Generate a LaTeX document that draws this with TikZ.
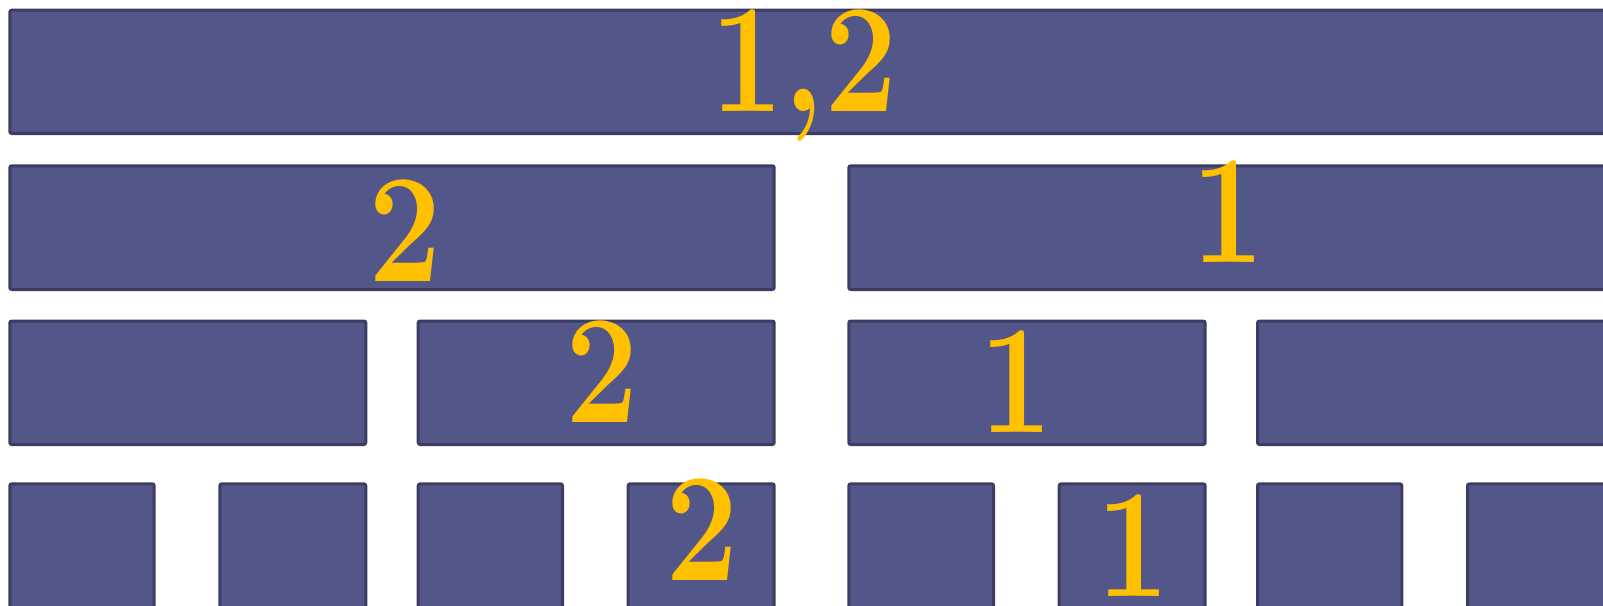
\documentclass[tikz,border=0pt]{standalone}
\usepackage{fontspec}
\usepackage{graphicx}
\setmainfont{Latin Modern Roman}
\definecolor{boxfill}{RGB}{83,86,137}
\definecolor{boxline}{RGB}{60,60,100}
\definecolor{numcol}{RGB}{255,192,0}
\tikzset{
  box/.style={draw=boxline, fill=boxfill, line width=3pt, rounded corners=2pt, inner sep=0pt, outer sep=0pt},
  num/.style={text=numcol, font=\fontsize{155}{155}\selectfont\bfseries, inner sep=0pt, anchor=base}
}
\newcommand\segbox[5]{\node[box, minimum width={#4-#2-3}, minimum height={#5-#3-3}] (#1) at ({(#2+#4)/2},{(#3+#5)/2}) {};}
\newcommand\nrw[1]{\scalebox{0.84}[1]{#1}}
\begin{document}
\begin{tikzpicture}[x=1pt,y=-1pt]
\useasboundingbox (0,0) rectangle (1603,605);
\clip (0,0) rectangle (1603,605);
% row 1
\segbox{r1}{8.3}{8.7}{1650}{135}
% row 2
\segbox{r2a}{8.3}{164.3}{775.7}{291}
\segbox{r2b}{847.3}{164.3}{1650}{291}
% row 3
\segbox{r3a}{8.3}{319.5}{367.3}{446}
\segbox{r3b}{416.7}{319.5}{775.7}{446}
\segbox{r3c}{847.3}{319.5}{1206.7}{446}
\segbox{r3d}{1256}{319.5}{1650}{446}
% row 4
\segbox{r4a}{8.3}{482.3}{155.7}{650}
\segbox{r4b}{218.3}{482.3}{367.3}{650}
\segbox{r4c}{416.7}{482.3}{564}{650}
\segbox{r4d}{626.7}{482.3}{775.7}{650}
\segbox{r4e}{847.3}{482.3}{995}{650}
\segbox{r4f}{1057.7}{482.3}{1206.7}{650}
\segbox{r4g}{1256}{482.3}{1403.3}{650}
\segbox{r4h}{1466}{482.3}{1650}{650}
% labels
\node[num] (l1) at (804,111.7) {\nrw{1,2}};
\node[num] (l2a) at (405,281) {\nrw{2}};
\node[num] (l2b) at (1228,262.7) {\nrw{1}};
\node[num] (l3b) at (602,422) {\nrw{2}};
\node[num] (l3c) at (1016,432.4) {\nrw{1}};
\node[num] (l4d) at (702,580.7) {\nrw{2}};
\node[num] (l4f) at (1133,596) {\nrw{1}};
\end{tikzpicture}
\end{document}
